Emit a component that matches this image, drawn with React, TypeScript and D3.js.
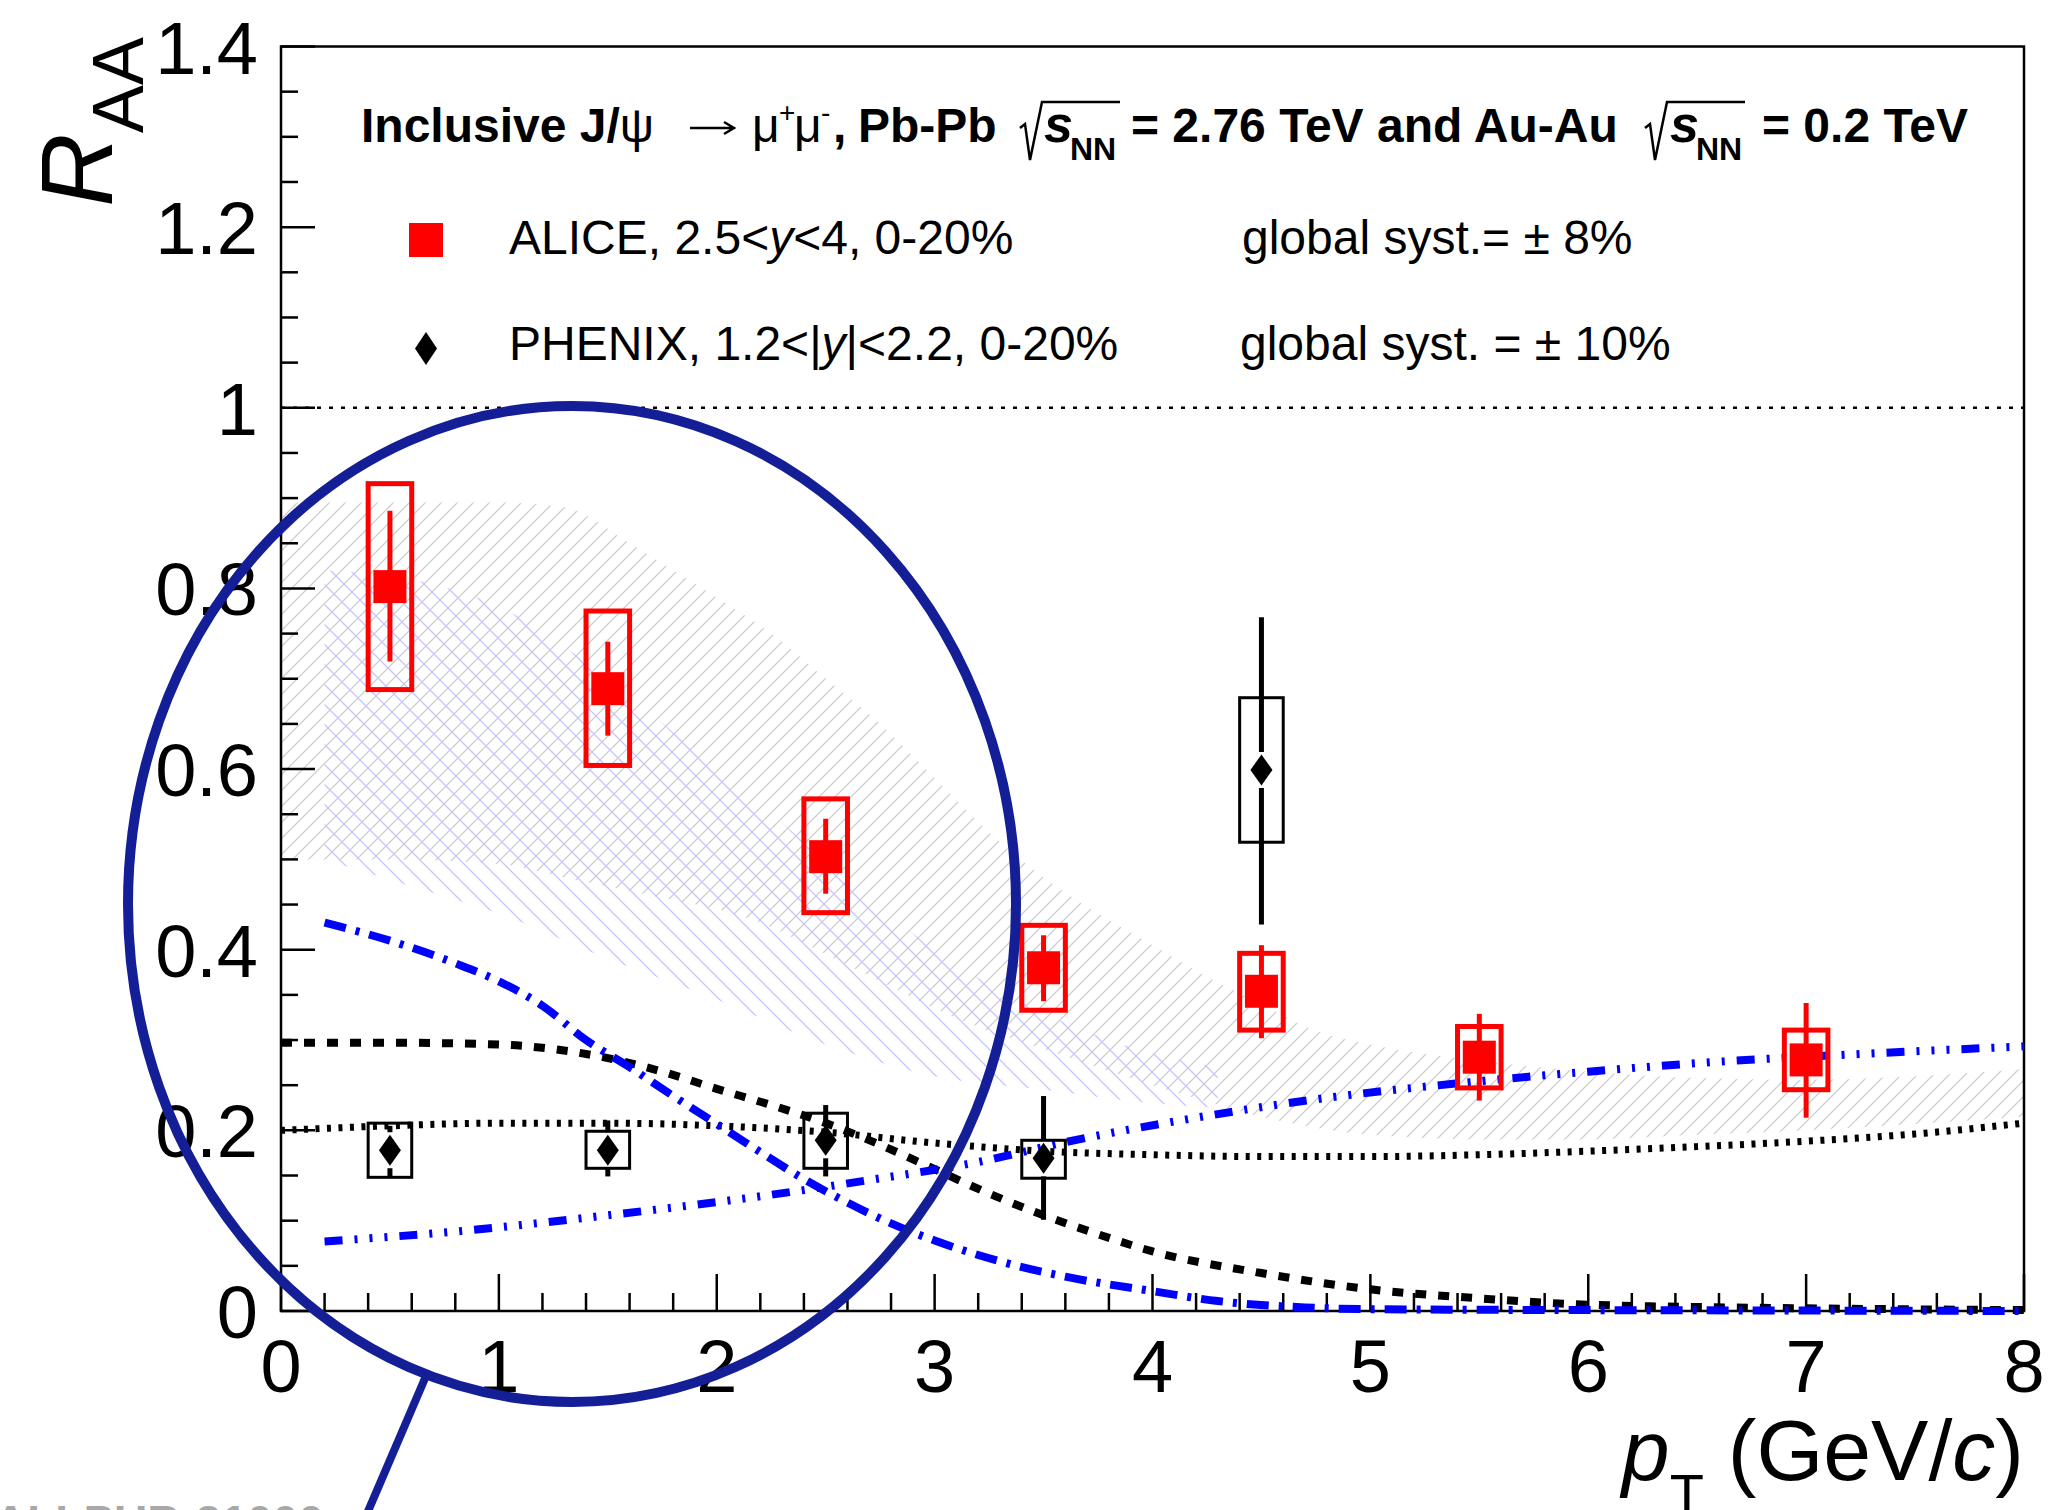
import React, { useEffect, useRef } from "react";
import * as d3 from "d3";

const W = 2049;
const H = 1510;
const FONT = "'Liberation Sans', Arial, Helvetica, sans-serif";

// ALICE inclusive J/psi R_AA, Pb-Pb 2.76 TeV, 2.5<y<4, 0-20%
const alicePt = [0.5, 1.5, 2.5, 3.5, 4.5, 5.5, 7.0];
const aliceR = [0.802, 0.689, 0.503, 0.38, 0.354, 0.281, 0.278];
const aliceStatLo = [0.719, 0.637, 0.462, 0.343, 0.302, 0.233, 0.214];
const aliceStatHi = [0.886, 0.741, 0.545, 0.416, 0.405, 0.329, 0.341];
const aliceSysLo = [0.688, 0.604, 0.441, 0.333, 0.311, 0.247, 0.245];
const aliceSysHi = [0.916, 0.775, 0.567, 0.427, 0.396, 0.315, 0.311];

// PHENIX J/psi R_AA, Au-Au 0.2 TeV, 1.2<|y|<2.2, 0-20%
const phenixPt = [0.5, 1.5, 2.5, 3.5, 4.5];
const phenixR = [0.178, 0.178, 0.189, 0.169, 0.599];
const phenixStatLo = [0.149, 0.149, 0.149, 0.101, 0.428];
const phenixStatHi = [0.205, 0.211, 0.228, 0.238, 0.768];
const phenixSysLo = [0.148, 0.158, 0.158, 0.147, 0.519];
const phenixSysHi = [0.208, 0.199, 0.219, 0.189, 0.679];
const sysHalfWidth = 0.1;

// Transport model bands
const grayBandPt = [0, 0.5, 1.0, 1.3, 1.6, 1.8, 2.0, 2.25, 2.5, 2.75, 3.0, 3.25, 3.5, 3.75, 4.0, 4.25, 4.5, 4.75, 5.0, 5.5, 6.0, 6.5, 7.0, 7.5, 8.0];
const grayBandHi = [0.895, 0.895, 0.895, 0.89, 0.85, 0.82, 0.79, 0.75, 0.7, 0.65, 0.59, 0.53, 0.48, 0.44, 0.405, 0.37, 0.34, 0.31, 0.295, 0.277, 0.265, 0.258, 0.256, 0.26, 0.268];
const grayBandLo = [0.5, 0.5, 0.495, 0.48, 0.465, 0.455, 0.445, 0.425, 0.395, 0.365, 0.335, 0.31, 0.29, 0.27, 0.25, 0.232, 0.215, 0.203, 0.195, 0.19, 0.19, 0.195, 0.2, 0.207, 0.215];

const blueBandPt = [0.2, 0.6, 1.0, 1.5, 2.0, 2.5, 3.0, 3.5, 4.0, 4.3];
const blueBandHi = [0.82, 0.81, 0.78, 0.7, 0.6, 0.5, 0.4, 0.33, 0.285, 0.27];
const blueBandLo = [0.5, 0.47, 0.44, 0.39, 0.345, 0.295, 0.26, 0.245, 0.23, 0.225];

// Model curves
const blueDecPt = [0.2, 0.5, 0.8, 1.0, 1.2, 1.4, 1.6, 1.8, 2.0, 2.2, 2.4, 2.6, 2.8, 3.0, 3.3, 3.6, 4.0, 4.3, 4.7, 5.0, 6.0, 7.0, 8.0];
const blueDecR = [0.43, 0.41, 0.385, 0.365, 0.338, 0.3, 0.27, 0.238, 0.207, 0.176, 0.146, 0.12, 0.097, 0.078, 0.055, 0.038, 0.022, 0.011, 0.004, 0.002, 0.001, 0.0005, 0];

const blueAscPt = [0.2, 0.8, 1.5, 2.2, 2.7, 3.2, 3.6, 4.2, 4.8, 5.4, 6.0, 6.6, 7.2, 8.0];
const blueAscR = [0.077, 0.088, 0.106, 0.127, 0.145, 0.165, 0.187, 0.214, 0.236, 0.252, 0.265, 0.276, 0.284, 0.293];

const blackDashPt = [0, 0.5, 1.0, 1.25, 1.5, 1.75, 2.0, 2.25, 2.5, 2.75, 3.0, 3.25, 3.5, 3.75, 4.0, 4.5, 5.0, 5.5, 6.0, 7.0, 8.0];
const blackDashR = [0.297, 0.297, 0.295, 0.29, 0.28, 0.265, 0.246, 0.228, 0.208, 0.184, 0.157, 0.13, 0.106, 0.085, 0.066, 0.042, 0.024, 0.014, 0.007, 0.003, 0.001];

const blackDotPt = [0, 0.5, 1.0, 1.5, 2.0, 2.5, 3.0, 3.5, 4.0, 4.5, 5.0, 5.5, 6.0, 6.5, 7.0, 7.5, 8.0];
const blackDotR = [0.2, 0.205, 0.208, 0.208, 0.205, 0.198, 0.186, 0.177, 0.173, 0.171, 0.171, 0.173, 0.177, 0.182, 0.188, 0.196, 0.208];

// Axes
const xTickValues = [0, 1, 2, 3, 4, 5, 6, 7, 8];
const xTickLabels = ["0", "1", "2", "3", "4", "5", "6", "7", "8"];
const yTickValues = [0, 0.2, 0.4, 0.6, 0.8, 1.0, 1.2, 1.4];
const yTickLabels = ["0", "0.2", "0.4", "0.6", "0.8", "1", "1.2", "1.4"];

export default function App() {
  const ref = useRef<SVGSVGElement>(null);

  useEffect(() => {
    const svg = d3.select(ref.current);
    svg.selectAll("*").remove();

    const x = d3.scaleLinear().domain([0, 8]).range([281, 2024]);
    const y = d3.scaleLinear().domain([0, 1.4]).range([1311, 46.5]);

    const defs = svg.append("defs");
    const pg = defs
      .append("pattern")
      .attr("id", "hatchGray")
      .attr("patternUnits", "userSpaceOnUse")
      .attr("width", 16)
      .attr("height", 16);
    pg.append("path")
      .attr("d", "M-4,4 L4,-4 M0,16 L16,0 M12,20 L20,12")
      .attr("stroke", "#cfcfcf")
      .attr("stroke-width", 1.3);
    const pb = defs
      .append("pattern")
      .attr("id", "hatchBlue")
      .attr("patternUnits", "userSpaceOnUse")
      .attr("width", 20)
      .attr("height", 20);
    pb.append("path")
      .attr("d", "M-5,15 L5,25 M0,0 L20,20 M15,-5 L25,5")
      .attr("stroke", "#c4c4ff")
      .attr("stroke-width", 1.3);
    defs
      .append("clipPath")
      .attr("id", "plotClip")
      .append("rect")
      .attr("x", x(0))
      .attr("y", y(1.4))
      .attr("width", x(8) - x(0))
      .attr("height", y(0) - y(1.4));

    // Bands
    const bandArea = d3
      .area<{ pt: number; lo: number; hi: number }>()
      .x((d) => x(d.pt))
      .y0((d) => y(d.lo))
      .y1((d) => y(d.hi))
      .curve(d3.curveMonotoneX);
    const bands = svg.append("g").attr("clip-path", "url(#plotClip)");
    bands
      .append("path")
      .attr("d", bandArea(grayBandPt.map((pt, i) => ({ pt, lo: grayBandLo[i], hi: grayBandHi[i] }))))
      .attr("fill", "url(#hatchGray)");
    bands
      .append("path")
      .attr("d", bandArea(blueBandPt.map((pt, i) => ({ pt, lo: blueBandLo[i], hi: blueBandHi[i] }))))
      .attr("fill", "url(#hatchBlue)");

    // Frame and ticks
    const axes = svg.append("g").attr("stroke", "#000").attr("fill", "none");
    axes
      .append("rect")
      .attr("x", x(0))
      .attr("y", y(1.4))
      .attr("width", x(8) - x(0))
      .attr("height", y(0) - y(1.4))
      .attr("stroke-width", 2.5);
    d3.range(0, 1.4001, 0.05).forEach((v, i) => {
      const major = i % 4 === 0;
      axes
        .append("line")
        .attr("x1", x(0))
        .attr("x2", x(0) + (major ? 34 : 17))
        .attr("y1", y(v))
        .attr("y2", y(v))
        .attr("stroke-width", 2.5);
    });
    d3.range(0, 8.0001, 0.2).forEach((v, i) => {
      const major = i % 5 === 0;
      axes
        .append("line")
        .attr("x1", x(v))
        .attr("x2", x(v))
        .attr("y1", y(0))
        .attr("y2", y(0) - (major ? 37 : 18))
        .attr("stroke-width", 2.5);
    });

    // R_AA = 1 reference
    svg
      .append("line")
      .attr("x1", x(0))
      .attr("x2", x(8))
      .attr("y1", y(1))
      .attr("y2", y(1))
      .attr("stroke", "#000")
      .attr("stroke-width", 2.5)
      .attr("stroke-dasharray", "4 8");

    // Model curves
    const line = d3
      .line<[number, number]>()
      .x((d) => x(d[0]))
      .y((d) => y(d[1]))
      .curve(d3.curveMonotoneX);
    const curve = (pts: number[], vals: number[], color: string, dash: string, w: number) =>
      svg
        .append("path")
        .attr("d", line(pts.map((p, i) => [p, vals[i]] as [number, number])))
        .attr("fill", "none")
        .attr("stroke", color)
        .attr("stroke-width", w)
        .attr("stroke-dasharray", dash);
    curve(blackDotPt, blackDotR, "#000", "4 7.5", 7);
    curve(blackDashPt, blackDashR, "#000", "11 12", 8);
    curve(blueDecPt, blueDecR, "#0000ff", "22 10 4 10", 8);
    curve(blueAscPt, blueAscR, "#0000ff", "18 12 3 12 3 12 3 12", 8);

    // PHENIX points
    const diamond = (g: any, cx: number, cy: number, w: number, h: number) =>
      g
        .append("path")
        .attr("d", `M${cx},${cy - h / 2} L${cx + w / 2},${cy} L${cx},${cy + h / 2} L${cx - w / 2},${cy} Z`)
        .attr("fill", "#000");
    const ph = svg.append("g");
    phenixPt.forEach((pt, i) => {
      const cx = x(pt);
      const cy = y(phenixR[i]);
      ph.append("rect")
        .attr("x", x(pt - sysHalfWidth))
        .attr("y", y(phenixSysHi[i]))
        .attr("width", x(pt + sysHalfWidth) - x(pt - sysHalfWidth))
        .attr("height", y(phenixSysLo[i]) - y(phenixSysHi[i]))
        .attr("fill", "none")
        .attr("stroke", "#000")
        .attr("stroke-width", 3);
      const gap = 18;
      if (y(phenixStatHi[i]) < cy - gap)
        ph.append("line").attr("x1", cx).attr("x2", cx).attr("y1", y(phenixStatHi[i])).attr("y2", cy - gap).attr("stroke", "#000").attr("stroke-width", 5);
      if (y(phenixStatLo[i]) > cy + gap)
        ph.append("line").attr("x1", cx).attr("x2", cx).attr("y1", cy + gap).attr("y2", y(phenixStatLo[i])).attr("stroke", "#000").attr("stroke-width", 5);
      diamond(ph, cx, cy, 22, 31);
    });

    // ALICE points
    const al = svg.append("g");
    alicePt.forEach((pt, i) => {
      const cx = x(pt);
      const cy = y(aliceR[i]);
      al.append("rect")
        .attr("x", x(pt - sysHalfWidth))
        .attr("y", y(aliceSysHi[i]))
        .attr("width", x(pt + sysHalfWidth) - x(pt - sysHalfWidth))
        .attr("height", y(aliceSysLo[i]) - y(aliceSysHi[i]))
        .attr("fill", "none")
        .attr("stroke", "#ff0000")
        .attr("stroke-width", 5);
      al.append("line")
        .attr("x1", cx)
        .attr("x2", cx)
        .attr("y1", y(aliceStatHi[i]))
        .attr("y2", y(aliceStatLo[i]))
        .attr("stroke", "#ff0000")
        .attr("stroke-width", 5);
      al.append("rect")
        .attr("x", cx - 16.5)
        .attr("y", cy - 16.5)
        .attr("width", 33)
        .attr("height", 33)
        .attr("fill", "#ff0000");
    });

    // Tick labels
    const labels = svg.append("g").attr("font-family", FONT).attr("fill", "#000");
    yTickValues.forEach((v, i) => {
      labels
        .append("text")
        .attr("x", 258)
        .attr("y", y(v) + 27)
        .attr("text-anchor", "end")
        .attr("font-size", 74)
        .text(yTickLabels[i]);
    });
    xTickValues.forEach((v, i) => {
      labels
        .append("text")
        .attr("x", x(v))
        .attr("y", 1392)
        .attr("text-anchor", "middle")
        .attr("font-size", 74)
        .text(xTickLabels[i]);
    });

    // Axis titles
    const xt = labels.append("text").attr("x", 2024).attr("y", 1480).attr("text-anchor", "end").attr("font-size", 86);
    xt.append("tspan").attr("font-style", "italic").text("p");
    xt.append("tspan").attr("font-size", 56).attr("dy", 33).text("T");
    xt.append("tspan").attr("dy", -33).text(" (GeV/");
    xt.append("tspan").attr("font-style", "italic").text("c");
    xt.append("tspan").text(")");

    const yt = labels.append("text").attr("transform", "translate(112,207) rotate(-90)").attr("font-size", 102);
    yt.append("tspan").attr("font-style", "italic").text("R");
    yt.append("tspan").attr("font-size", 72).attr("dy", 31).text("AA");

    // Header
    const hdr = svg.append("g").attr("font-family", FONT).attr("fill", "#000").attr("font-size", 48);
    const base = 142;
    const t1 = hdr.append("text").attr("x", 361).attr("y", base).attr("font-weight", "bold");
    t1.append("tspan").text("Inclusive J/");
    t1.append("tspan").attr("font-weight", "normal").text("\u03c8");
    // decay arrow
    hdr
      .append("path")
      .attr("d", `M690,${base - 14} L733,${base - 14} M724,${base - 20} L734,${base - 14} L724,${base - 8}`)
      .attr("fill", "none")
      .attr("stroke", "#000")
      .attr("stroke-width", 2.5);
    hdr.append("text").attr("x", 752).attr("y", base).text("\u03bc");
    hdr.append("text").attr("x", 779).attr("y", base - 20).attr("font-size", 28).text("+");
    hdr.append("text").attr("x", 794).attr("y", base).text("\u03bc");
    hdr.append("text").attr("x", 821).attr("y", base - 20).attr("font-size", 28).text("-");
    hdr.append("text").attr("x", 833).attr("y", base).attr("font-weight", "bold").text(",");
    hdr.append("text").attr("x", 858).attr("y", base).attr("font-weight", "bold").text("Pb-Pb");

    const radical = (x0: number, x1: number) =>
      hdr
        .append("path")
        .attr("d", `M${x0},${base - 14} L${x0 + 5},${base - 18} L${x0 + 10},${base + 18} L${x0 + 22},${base - 40} L${x1},${base - 40}`)
        .attr("fill", "none")
        .attr("stroke", "#000")
        .attr("stroke-width", 2.5);
    const sNN = (xs: number) => {
      hdr.append("text").attr("x", xs).attr("y", base).attr("font-weight", "bold").attr("font-style", "italic").attr("font-size", 52).text("s");
      hdr.append("text").attr("x", xs + 26).attr("y", base + 18).attr("font-weight", "bold").attr("font-size", 32).text("NN");
    };
    radical(1020, 1120);
    sNN(1044);
    hdr.append("text").attr("x", 1131).attr("y", base).attr("font-weight", "bold").text("= 2.76 TeV and Au-Au");
    radical(1645, 1745);
    sNN(1670);
    hdr.append("text").attr("x", 1762).attr("y", base).attr("font-weight", "bold").text("= 0.2 TeV");

    // Legend
    hdr.append("rect").attr("x", 409).attr("y", 223).attr("width", 34).attr("height", 34).attr("fill", "#ff0000");
    diamond(hdr, 426, 348.5, 22, 33);
    const l1 = hdr.append("text").attr("x", 509).attr("y", 254);
    l1.append("tspan").text("ALICE, 2.5<");
    l1.append("tspan").attr("font-style", "italic").text("y");
    l1.append("tspan").text("<4, 0-20%");
    hdr.append("text").attr("x", 1242).attr("y", 254).text("global syst.= \u00b1 8%");
    const l2 = hdr.append("text").attr("x", 509).attr("y", 360);
    l2.append("tspan").text("PHENIX, 1.2<|");
    l2.append("tspan").attr("font-style", "italic").text("y");
    l2.append("tspan").text("|<2.2, 0-20%");
    hdr.append("text").attr("x", 1240).attr("y", 360).text("global syst. = \u00b1 10%");

    // Highlight ellipse with pointer
    const hl = svg.append("g").attr("stroke", "#141e96").attr("fill", "none");
    hl.append("ellipse").attr("cx", 572).attr("cy", 904).attr("rx", 444).attr("ry", 498).attr("stroke-width", 10);
    hl.append("line").attr("x1", 426).attr("y1", 1376).attr("x2", 366).attr("y2", 1516).attr("stroke-width", 8);

    svg
      .append("text")
      .attr("x", -6)
      .attr("y", 1538)
      .attr("font-family", FONT)
      .attr("font-weight", "bold")
      .attr("font-size", 46)
      .attr("fill", "#a8a8a8")
      .text("ALI-PUB-31000");
  }, []);

  return (
    <svg
      ref={ref}
      width={W}
      height={H}
      viewBox={`0 0 ${W} ${H}`}
      style={{ position: "absolute", left: 0, top: 0, background: "#fff", display: "block" }}
    />
  );
}
